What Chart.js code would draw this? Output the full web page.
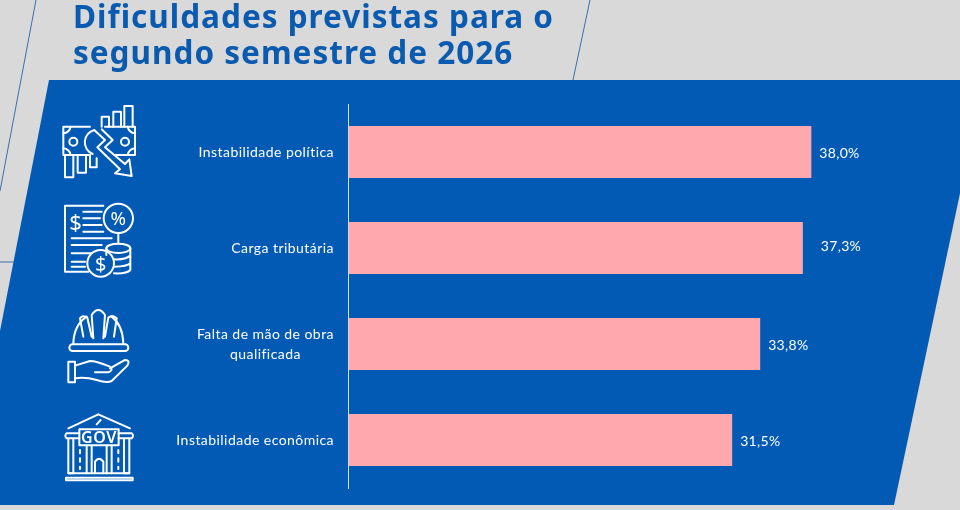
<!DOCTYPE html>
<html lang="pt-BR">
<head>
<meta charset="utf-8">
<title>Dificuldades previstas</title>
<script src="https://cdn.jsdelivr.net/npm/chart.js@4"></script>
<style>
  html, body { margin: 0; padding: 0; background: #d9d9d9; }
  #wrap { position: relative; width: 960px; height: 510px; overflow: hidden; }
  #chart { position: absolute; left: 0; top: 0; }
  #title {
    position: absolute; left: 73px; top: -2px; margin: 0;
    font: 700 31.5px/36px "Noto Sans", sans-serif; letter-spacing: 1px;
    color: #0a5bb0; white-space: nowrap;
  }
  #icons { position: absolute; left: 0; top: 0; pointer-events: none; }
  #icons .ln { fill: none; stroke: #fff; stroke-width: 6; stroke-linejoin: round; stroke-linecap: round; }
  #icons text { fill: #fff; font-family: "Noto Sans", sans-serif; }
</style>
</head>
<body>
<div id="wrap">
  <canvas id="chart" width="960" height="510"></canvas>
  <h1 id="title">Dificuldades previstas para o<br>segundo semestre de 2026</h1>
  <svg id="icons" width="960" height="510" viewBox="0 0 960 510">
    <!-- money and falling arrow -->
    <g transform="translate(40,90) scale(0.3333)">
      <path class="ln" d="M185,110V80H207V110M220,110V65H243V110M253,110V48H278V110"/>
      <path class="ln" d="M150,110H70V195H145M195,110H285V195H225"/>
      <circle class="ln" cx="100" cy="155" r="12"/>
      <circle class="ln" cx="255" cy="155" r="12"/>
      <path class="ln" d="M70,130Q88,128 92,110M70,175Q88,177 92,195M285,130Q267,128 263,110M285,175Q267,177 263,195"/>
      <path class="ln" d="M163,120A38,38 0 0 0 158,192"/>
      <path class="ln" d="M165,122L195,150L172,172L240,238L225,250L275,258L268,208L255,222L195,172L218,150L185,118"/>
      <path class="ln" d="M75,195V262H100V195M113,195V248H138V195M150,195V232H170V205"/>
    </g>
    <!-- tax document -->
    <g transform="translate(40,90) scale(0.3333)">
      <path class="ln" d="M190,347H75V545H145"/>
      <path class="ln" d="M130,365H185M130,385H180M130,405H185M130,425H190M95,445H215M95,465H185M95,490H155M95,515H135M95,530H135"/>
      <text x="107" y="420" font-size="66" text-anchor="middle">$</text>
      <circle class="ln" cx="235" cy="385" r="44"/>
      <text x="235" y="405" font-size="56" text-anchor="middle">%</text>
      <path class="ln" d="M235,430V460"/>
      <ellipse class="ln" cx="235" cy="475" rx="36" ry="14"/>
      <path class="ln" d="M199,475V495M271,475V540Q260,552 222,550M271,497Q255,510 222,508M271,520Q260,530 225,530"/>
      <circle class="ln" cx="182" cy="520" r="40"/>
      <text x="182" y="542" font-size="60" text-anchor="middle">$</text>
    </g>
    <!-- helmet over a hand -->
    <g transform="translate(40,295) scale(0.3333)">
      <rect class="ln" x="88" y="148" width="177" height="20" rx="10"/>
      <path class="ln" d="M100,145Q102,90 140,65M250,145Q248,90 215,65"/>
      <path class="ln" d="M130,125L120,70Q128,58 142,68L155,125M155,60Q175,30 195,60L190,130M160,130L155,60M195,125L205,68Q218,58 230,70L222,125"/>
      <path class="ln" d="M85,200H105V262H85ZM105,212L150,198Q170,198 210,215Q222,225 205,232H165M210,220L255,195Q272,195 262,212L215,258Q200,265 170,255Q135,245 105,250"/>
    </g>
    <!-- government building -->
    <g transform="translate(40,295) scale(0.3333)">
      <path class="ln" d="M85,400L175,358L270,400M170,388L182,375"/>
      <path class="ln" d="M118,415H80Q72,422 80,430H118M236,415H275Q283,422 275,430H236"/>
      <rect class="ln" x="118" y="403" width="118" height="48"/>
      <text x="177" y="445" font-size="48" font-weight="600" letter-spacing="2" text-anchor="middle">GOV</text>
      <path class="ln" d="M85,432V535H100V432M140,452V535M155,452V535M200,452V535M215,452V535M252,432V535H268V432"/>
      <path class="ln" d="M120,465V475M120,490V500M120,515V522M235,465V475M235,490V500M235,515V522"/>
      <path class="ln" d="M165,535V500Q177,482 190,500V535"/>
      <path class="ln" d="M85,535H268M78,548H278V556H78Z"/>
    </g>
  </svg>
</div>
<script>
const categories = ['Instabilidade política', 'Carga tributária', ['Falta de mão de obra', 'qualificada'], 'Instabilidade econômica'];
const values = [38.0, 37.3, 33.8, 31.5];

const panelBlue = '#025ab4';
const textFont = '14px Lato, sans-serif';

// gray page, slanted blue panel and the thin guide lines behind the chart
const backdrop = {
  id: 'backdrop',
  beforeDraw(chart) {
    const ctx = chart.ctx;
    ctx.save();
    ctx.fillStyle = '#d9d9d9';
    ctx.fillRect(0, 0, 960, 510);
    ctx.fillStyle = panelBlue;
    ctx.beginPath();
    ctx.moveTo(49, 80);
    ctx.lineTo(984, 80);
    ctx.lineTo(894, 505);
    ctx.lineTo(-34, 505);
    ctx.closePath();
    ctx.fill();
    ctx.strokeStyle = '#3a6fb0';
    ctx.lineWidth = 1;
    ctx.beginPath();
    ctx.moveTo(36, 0);
    ctx.lineTo(0, 191);
    ctx.moveTo(590, 0);
    ctx.lineTo(573, 80);
    ctx.moveTo(0, 262);
    ctx.lineTo(14, 262);
    ctx.stroke();
    ctx.restore();
  }
};

// category text (second line centred under the first) and value labels
const textLabels = {
  id: 'textLabels',
  afterDatasetsDraw(chart) {
    const ctx = chart.ctx;
    const yScale = chart.scales.y;
    const bars = chart.getDatasetMeta(0).data;
    ctx.save();
    ctx.font = textFont;
    ctx.fillStyle = '#fff';
    ctx.textBaseline = 'middle';
    ctx.letterSpacing = '0.45px';
    categories.forEach((cat, i) => {
      const y = yScale.getPixelForTick(i);
      const lines = Array.isArray(cat) ? cat : [cat];
      const widest = Math.max(...lines.map(l => ctx.measureText(l).width));
      const center = 334 - widest / 2;
      ctx.textAlign = 'center';
      lines.forEach((line, n) => {
        ctx.fillText(line, center, y + (n - (lines.length - 1) / 2) * 20);
      });
    });
    ctx.letterSpacing = '0.3px';
    ctx.textAlign = 'left';
    bars.forEach((bar, i) => {
      // the second label sits further out and a bit higher in the original
      const gap = i === 1 ? 18 : 8;
      const lift = i === 1 ? 2 : -1;
      ctx.fillText(values[i].toFixed(1).replace('.', ',') + '%', bar.x + gap, bar.y - lift);
    });
    ctx.restore();
  }
};

new Chart(document.getElementById('chart'), {
  type: 'bar',
  data: {
    labels: categories,
    datasets: [{
      data: values,
      backgroundColor: '#ffa8ad',
      categoryPercentage: 1,
      barPercentage: 0.5417
    }]
  },
  options: {
    indexAxis: 'y',
    responsive: false,
    animation: false,
    layout: { padding: { top: 104, bottom: 22, right: 2.5 } },
    plugins: { legend: { display: false }, tooltip: { enabled: false } },
    scales: {
      x: { min: 0, max: 50, display: false },
      y: {
        afterFit(scale) { scale.width = 348.5; },
        grid: { display: false, drawTicks: false },
        border: { color: '#d4e0f0', width: 1 },
        ticks: { display: false }
      }
    }
  },
  plugins: [backdrop, textLabels]
});
</script>
</body>
</html>
